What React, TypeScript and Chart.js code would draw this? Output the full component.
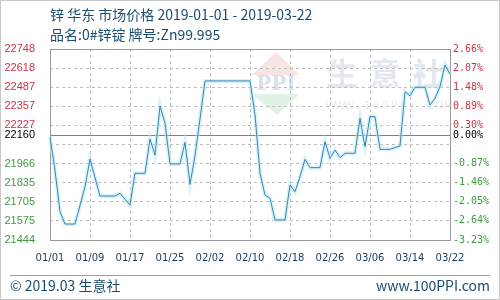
import React, { useEffect, useRef } from "react";
import { Chart, registerables } from "chart.js";

Chart.register(...registerables);

// ---- text ----
const TITLE = "锌 华东 市场价格 2019-01-01 - 2019-03-22";
const SUBTITLE = "品名:0#锌锭 牌号:Zn99.995";
const FOOTER_LEFT = "© 2019.03 生意社";
const FOOTER_RIGHT = "www.100PPI.com";
const WATERMARK_CHARS = ["生", "意", "社"];
const WATERMARK_URL = "WWW.100PPI.COM";
const LOGO_TEXT = "PPI";

// ---- categories (daily, 2019-01-01 .. 2019-03-22) ----
const START_YEAR = 2019;
const DAY_COUNT = 81;
const DATES: string[] = [];
for (let i = 0; i < DAY_COUNT; i++) {
  const d = new Date(START_YEAR, 0, 1 + i);
  const mm = String(d.getMonth() + 1).padStart(2, "0");
  const dd = String(d.getDate()).padStart(2, "0");
  DATES.push(`${mm}/${dd}`);
}
const X_TICK_EVERY = 8;

// ---- series (yuan/ton) ----
const PRICES = [
  22147, 21920, 21637, 21553, 21553, 21553, 21680, 21808, 21997, 21870,
  21744, 21744, 21744, 21744, 21763, 21722, 21683, 21899, 21899, 21899,
  22134, 22024, 22359, 22241, 21963, 21963, 21963, 22111, 21824, 22020,
  22270, 22530, 22530, 22530, 22530, 22530, 22530, 22530, 22530, 22530,
  22530, 22300, 21900, 21751, 21729, 21581, 21581, 21581, 21820, 21774,
  21876, 21995, 21938, 21938, 21938, 22115, 22002, 22058, 22006, 22036,
  22036, 22036, 22275, 22081, 22286, 22286, 22063, 22063, 22063, 22075,
  22086, 22457, 22428, 22487, 22487, 22487, 22366, 22411, 22491, 22639,
  22576,
];

// ---- axes ----
const BASE = 22160;
const Y_MIN = 21444;
const Y_MAX = 22748;
const Y_TICK_VALUES = [
  21444, 21574.4, 21704.8, 21835.2, 21965.6, 22096, 22226.4, 22356.8,
  22487.2, 22617.6, 22748, 22160,
];
const LEFT_LABELS = [
  "21444", "21575", "21705", "21835", "21966", "", "22227", "22357",
  "22487", "22618", "22748", "22160",
];
const RIGHT_LABELS = [
  "-3.23%", "-2.64%", "-2.05%", "-1.46%", "-0.87%", "", "0.30%", "0.89%",
  "1.48%", "2.07%", "2.66%", "0.00%",
];

const TEXT_COLOR = "#1b4d6e";
const UP_COLOR = "#cc3344";
const DOWN_COLOR = "#3f9a3f";
const LINE_COLOR = "#3d84aa";
const GRID_COLOR = "#bdbdbd";

function tickColor(v: number) {
  if (v === BASE) return "#000000";
  return v > BASE ? UP_COLOR : DOWN_COLOR;
}

const decorPlugin = {
  id: "decor",
  beforeDraw(chart: any) {
    const { ctx, width, height } = chart;
    ctx.save();
    ctx.fillStyle = "#ffffff";
    ctx.fillRect(0, 0, width, height);
    ctx.strokeStyle = "#c8c8c8";
    ctx.lineWidth = 1;
    ctx.strokeRect(0.5, 0.5, width - 1, height - 1);

    // titles
    ctx.fillStyle = TEXT_COLOR;
    ctx.textBaseline = "middle";
    ctx.textAlign = "left";
    ctx.font = '14px "Noto Sans CJK SC", "Noto Sans", sans-serif';
    ctx.fillText(TITLE, 50, 14.5);
    ctx.fillText(SUBTITLE, 50, 34.5);

    // watermark logo
    ctx.fillStyle = "rgba(225,120,120,0.2)";
    ctx.beginPath();
    ctx.moveTo(276, 52);
    ctx.lineTo(300, 75);
    ctx.lineTo(252, 75);
    ctx.closePath();
    ctx.fill();
    ctx.fillStyle = "rgba(110,190,120,0.2)";
    ctx.beginPath();
    ctx.moveTo(252, 94);
    ctx.lineTo(300, 94);
    ctx.lineTo(277, 115);
    ctx.closePath();
    ctx.fill();
    ctx.fillStyle = "rgba(120,145,200,0.28)";
    ctx.font = 'bold 20px "DejaVu Serif", serif';
    ctx.textAlign = "center";
    ctx.fillText(LOGO_TEXT, 276, 85);

    // watermark text
    ctx.fillStyle = "rgba(185,195,215,0.4)";
    ctx.font = 'bold 31px "Noto Sans CJK SC", sans-serif';
    WATERMARK_CHARS.forEach((c, i) => ctx.fillText(c, 342 + i * 43, 73));
    ctx.fillStyle = "rgba(190,190,190,0.3)";
    ctx.font = '11px "DejaVu Sans", sans-serif';
    WATERMARK_URL.split("").forEach((c, i) => ctx.fillText(c, 331 + i * 9, 106));

    // footer
    ctx.strokeStyle = "#a0a0a0";
    ctx.beginPath();
    ctx.moveTo(10, 275.5);
    ctx.lineTo(490, 275.5);
    ctx.stroke();
    ctx.fillStyle = TEXT_COLOR;
    ctx.font = '14px "Noto Sans CJK SC", "Noto Sans", sans-serif';
    ctx.textAlign = "left";
    ctx.fillText(FOOTER_LEFT, 10, 285.5);
    ctx.textAlign = "right";
    ctx.fillText(FOOTER_RIGHT, 490, 285.5);
    ctx.restore();
  },
  beforeDatasetsDraw(chart: any) {
    const { ctx, chartArea } = chart;
    const y = chart.scales.y;
    ctx.save();
    ctx.lineWidth = 1;
    ctx.strokeStyle = "#808080";
    const by = Math.round(y.getPixelForValue(BASE)) + 0.5;
    ctx.beginPath();
    ctx.moveTo(chartArea.left, by);
    ctx.lineTo(chartArea.right, by);
    ctx.stroke();
    ctx.strokeStyle = "#9a9a9a";
    ctx.strokeRect(
      Math.round(chartArea.left) + 0.5,
      Math.round(chartArea.top) + 0.5,
      Math.round(chartArea.right - chartArea.left),
      Math.round(chartArea.bottom - chartArea.top)
    );
    ctx.restore();
  },
};

export default function App() {
  const ref = useRef<HTMLCanvasElement | null>(null);

  useEffect(() => {
    if (!ref.current) return;
    const chart = new Chart(ref.current, {
      type: "line",
      data: {
        labels: DATES,
        datasets: [
          {
            data: PRICES,
            borderColor: LINE_COLOR,
            borderWidth: 1,
            pointRadius: 0,
            tension: 0,
            fill: false,
            order: 0,
          },
          {
            data: PRICES,
            borderColor: "rgba(185,235,252,0.6)",
            borderWidth: 4,
            pointRadius: 0,
            tension: 0,
            fill: false,
            order: 1,
          },
        ],
      },
      options: {
        animation: false,
        responsive: false,
        devicePixelRatio: 1,
        layout: { padding: { top: 49, left: 0, right: 0, bottom: 0 } },
        plugins: { legend: { display: false }, tooltip: { enabled: false } },
        scales: {
          x: {
            type: "category",
            afterBuildTicks: (s: any) => {
              s.ticks = s.ticks.filter((_t: any, i: number) => i % X_TICK_EVERY === 0);
            },
            afterFit: (s: any) => {
              s.height = 60;
            },
            ticks: {
              autoSkip: false,
              maxRotation: 0,
              padding: 12,
              color: "#1a3a5a",
              font: { family: '"DejaVu Sans", sans-serif', size: 10 },
            },
            grid: { color: GRID_COLOR, drawTicks: false, borderDash: [3, 3] } as any,
            border: { display: false, dash: [3, 3] },
          },
          y: {
            type: "linear",
            position: "left",
            min: Y_MIN,
            max: Y_MAX,
            afterBuildTicks: (s: any) => {
              s.ticks = Y_TICK_VALUES.map((v) => ({ value: v }));
            },
            afterFit: (s: any) => {
              s.width = 50;
            },
            ticks: {
              autoSkip: false,
              padding: 15,
              callback: (_v: any, i: number) => LEFT_LABELS[i],
              color: (c: any) => tickColor(c.tick.value),
              font: { family: '"Liberation Sans", sans-serif', size: 11 },
            },
            grid: {
              drawTicks: false,
              borderDash: [3, 3],
              color: (c: any) =>
                c.tick && c.tick.value === BASE ? "rgba(0,0,0,0)" : GRID_COLOR,
            } as any,
            border: { display: false, dash: [3, 3] },
          },
          y2: {
            type: "linear",
            position: "right",
            min: Y_MIN,
            max: Y_MAX,
            afterBuildTicks: (s: any) => {
              s.ticks = Y_TICK_VALUES.map((v) => ({ value: v }));
            },
            afterFit: (s: any) => {
              s.width = 50;
            },
            ticks: {
              autoSkip: false,
              padding: 3,
              callback: (_v: any, i: number) => RIGHT_LABELS[i],
              color: (c: any) => tickColor(c.tick.value),
              font: { family: '"DejaVu Sans Mono", monospace', size: 10 },
            },
            grid: { display: false, drawTicks: false },
            border: { display: false },
          },
        },
      },
      plugins: [decorPlugin],
    });
    return () => chart.destroy();
  }, []);

  return (
    <div style={{ position: "fixed", left: 0, top: 0, width: 500, height: 300 }}>
      <canvas ref={ref} width={500} height={300} style={{ width: 500, height: 300, display: "block" }} />
    </div>
  );
}
